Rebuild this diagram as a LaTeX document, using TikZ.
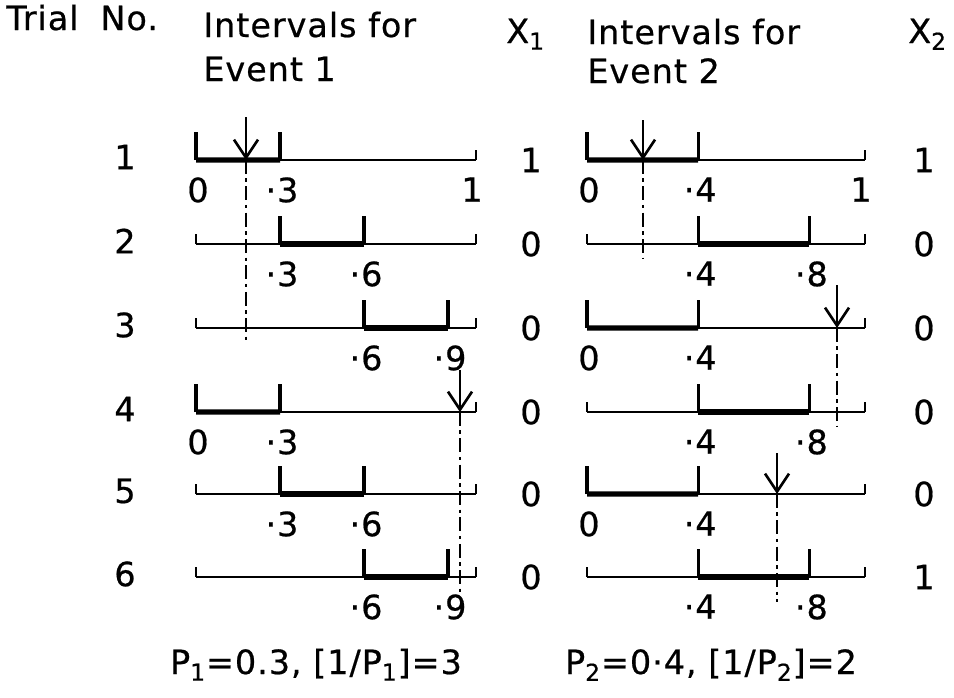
\documentclass[tikz,border=0pt]{standalone}
\usepackage{fontspec}
\setmainfont{DejaVu Sans}[LetterSpace=3,FakeBold=0.6]
\usepackage{tikz}
\usetikzlibrary{arrows.meta,positioning,calc}

\begin{document}
\begin{tikzpicture}[
    x=0.02cm, y=-0.02cm,
    every node/.style={font=\fontsize{19}{22}\selectfont, inner sep=0pt},
    axisline/.style={line width=1.2pt},
    hitseg/.style={line width=3pt},
    endtick/.style={line width=1.5pt},
    bndtick/.style={line width=1.9pt},
    lbl/.style={anchor=north},
    drop/.style={line width=1.5pt, -{Straight Barb[length=3.6mm,width=4.8mm,line width=1.5pt]}},
    trail/.style={line width=1.5pt, dash pattern=on 8pt off 2.5pt on 2pt off 2.5pt}
]
    \useasboundingbox (0,0) rectangle (954,697);

    % headings
    \node[anchor=base west] (trial) at (6,30) {Trial\hspace{1.2ex}No.};
    \node[anchor=base west] (head1) at (203,37) {Intervals for};
    \node[anchor=base west] (ev1) at (203,81) {Event 1};
    \node[anchor=base west] (xone) at (506,43) {X\textsubscript{1}};
    \node[anchor=base west] (head2) at (587,44) {Intervals for};
    \node[anchor=base west] (ev2) at (587,83) {Event 2};
    \node[anchor=base west] (xtwo) at (908,43) {X\textsubscript{2}};

    % one row per trial: y / event 1 interval, labels / X1 / event 2 interval, labels / X2
    \foreach \r/\yy/\aa/\ab/\la/\lb/\xa/\ba/\bb/\lc/\ld/\xb in {
        1/160/0/0.3/0/·3/1/0/0.4/0/·4/1,
        2/244/0.3/0.6/·3/·6/0/0.4/0.8/·4/·8/0,
        3/328/0.6/0.9/·6/·9/0/0/0.4/0/·4/0,
        4/412/0/0.3/0/·3/0/0.4/0.8/·4/·8/0,
        5/494/0.3/0.6/·3/·6/0/0/0.4/0/·4/0,
        6/577/0.6/0.9/·6/·9/0/0.4/0.8/·4/·8/1}{
        \node (num\r) at (125,\yy-3) {\r};
        % event 1
        \coordinate (pa\r) at (196,\yy);
        \coordinate (pb\r) at (476,\yy);
        \draw[axisline] (pa\r) -- (pb\r);
        \draw[endtick] (pa\r) -- ++(0,-10);
        \draw[endtick] (pb\r) -- ++(0,-10);
        \coordinate (ia\r) at ($(pa\r)!\aa!(pb\r)$);
        \coordinate (ib\r) at ($(pa\r)!\ab!(pb\r)$);
        \draw[hitseg] (ia\r) -- (ib\r);
        \draw[bndtick] (ia\r) -- ++(0,-28);
        \draw[bndtick] (ib\r) -- ++(0,-28);
        \node[lbl] (lia\r) at ($(ia\r)+(2,17)$) {\la};
        \node[lbl] (lib\r) at ($(ib\r)+(2,17)$) {\lb};
        \node (xa\r) at (531,\yy) {\xa};
        % event 2
        \coordinate (qa\r) at (587,\yy);
        \coordinate (qb\r) at (865,\yy);
        \draw[axisline] (qa\r) -- (qb\r);
        \draw[endtick] (qa\r) -- ++(0,-10);
        \draw[endtick] (qb\r) -- ++(0,-10);
        \coordinate (ja\r) at ($(qa\r)!\ba!(qb\r)$);
        \coordinate (jb\r) at ($(qa\r)!\bb!(qb\r)$);
        \draw[hitseg] (ja\r) -- (jb\r);
        \draw[bndtick] (ja\r) -- ++(0,-28);
        \draw[bndtick] (jb\r) -- ++(0,-28);
        \node[lbl] (lja\r) at ($(ja\r)+(2,17)$) {\lc};
        \node[lbl] (ljb\r) at ($(jb\r)+(2,17)$) {\ld};
        \node (xb\r) at (924,\yy) {\xb};
    }
    \node[lbl] (enda) at ($(pb1)+(-4,17)$) {1};
    \node[lbl] (endb) at ($(qb1)+(-4,17)$) {1};

    % random numbers for event 1
    \coordinate (ua) at (246,117);
    \coordinate (va) at (246,160);
    \coordinate (wa) at (246,340);
    \draw[drop] (ua) -- (va);
    \draw[trail] (va) -- (wa);
    \coordinate (ub) at (460,370);
    \coordinate (vb) at (460,412);
    \coordinate (wb) at (460,592);
    \draw[drop] (ub) -- (vb);
    \draw[trail] (vb) -- (wb);

    % random numbers for event 2
    \coordinate (uc) at (643,120);
    \coordinate (vc) at (643,160);
    \coordinate (wc) at (643,258);
    \draw[drop] (uc) -- (vc);
    \draw[trail] (vc) -- (wc);
    \coordinate (ud) at (837,285);
    \coordinate (vd) at (837,328);
    \coordinate (wd) at (837,427);
    \draw[drop] (ud) -- (vd);
    \draw[trail] (vd) -- (wd);
    \coordinate (ue) at (777,453);
    \coordinate (ve) at (777,494);
    \coordinate (we) at (777,602);
    \draw[drop] (ue) -- (ve);
    \draw[trail] (ve) -- (we);

    % probabilities
    \node[anchor=base] (pone) at (316,674) {P\textsubscript{1}=0.3, [1/P\textsubscript{1}]=3};
    \node[anchor=base] (ptwo) at (711,674) {P\textsubscript{2}=0·4, [1/P\textsubscript{2}]=2};
\end{tikzpicture}
\end{document}
